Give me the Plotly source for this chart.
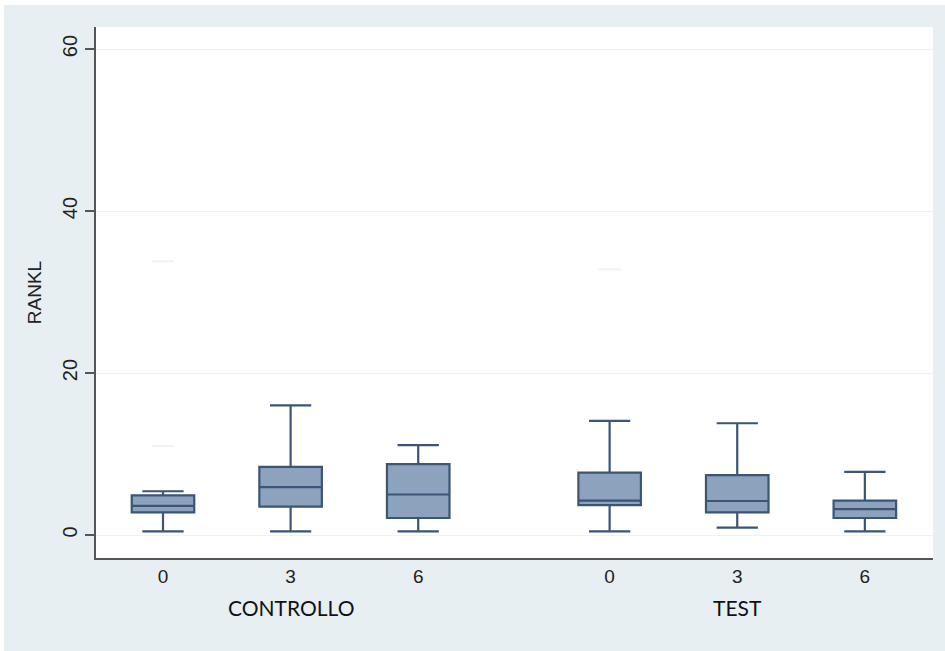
import plotly.graph_objects as go

# ---- data ----
groups = ["CONTROLLO", "CONTROLLO", "CONTROLLO", "TEST", "TEST", "TEST"]
times = ["0", "3", "6", "0", "3", "6"]
positions = [0, 1, 2, 3.5, 4.5, 5.5]
lower_whisker = [0.45, 0.45, 0.45, 0.45, 0.9, 0.45]
q1 = [2.8, 3.5, 2.1, 3.7, 2.8, 2.1]
median = [3.6, 5.9, 5.0, 4.25, 4.2, 3.2]
q3 = [4.9, 8.4, 8.75, 7.7, 7.4, 4.25]
upper_whisker = [5.4, 16.0, 11.1, 14.1, 13.8, 7.8]
outlier_pos = [0, 0, 3.5]
outlier_val = [33.8, 11.0, 32.8]
yticks = [0, 20, 40, 60]

FILL = "#8da3bd"
LINE = "#3a5575"
BG = "#e7eff2"

fig = go.Figure()
for i in range(len(positions)):
    fig.add_trace(go.Box(
        x=[positions[i]], q1=[q1[i]], median=[median[i]], q3=[q3[i]],
        lowerfence=[lower_whisker[i]], upperfence=[upper_whisker[i]],
        width=0.49, whiskerwidth=0.66,
        fillcolor=FILL, line=dict(color=LINE, width=2.2),
        boxpoints=False, showlegend=False, hoverinfo="skip",
    ))

fig.add_trace(go.Scatter(
    x=outlier_pos, y=outlier_val, mode="markers",
    marker=dict(symbol="line-ew", size=16, line=dict(color="#f2f2f2", width=2)),
    showlegend=False, hoverinfo="skip",
))

# group labels
label_font = dict(family="Lato, Carlito, sans-serif", size=21, color="#111111")
fig.add_annotation(x=positions[1], y=-0.0923, xref="x", yref="paper", yanchor="middle",
                   text="CONTROLLO", showarrow=False, font=label_font)
fig.add_annotation(x=positions[4], y=-0.0923, xref="x", yref="paper", yanchor="middle",
                   text="TEST", showarrow=False, font=label_font)

# white outer strips (top and left)
fig.add_shape(type="rect", xref="paper", yref="paper", x0=-0.12, x1=1.02, y0=1.0414, y1=1.06,
              fillcolor="white", line=dict(width=0), layer="below")
fig.add_shape(type="rect", xref="paper", yref="paper", x0=-0.12, x1=-0.1099, y0=-0.2, y1=1.06,
              fillcolor="white", line=dict(width=0), layer="below")

fig.update_layout(
    width=945, height=651,
    margin=dict(l=96, r=12, t=27, b=93),
    paper_bgcolor=BG, plot_bgcolor="white",
    font=dict(family="Liberation Sans, Arial, sans-serif", color="#222222"),
    xaxis=dict(
        range=[-0.525, 6.034], tickmode="array", tickvals=positions, ticktext=times,
        showgrid=False, zeroline=False, showline=True, linecolor="#555555", linewidth=2,
        ticks="", tickfont=dict(size=19, color="#222222"),
    ),
    yaxis=dict(
        range=[-2.84, 62.72], tickmode="array", tickvals=yticks, ticktext=[str(v) for v in yticks],
        showgrid=True, gridcolor="#eef2f4", gridwidth=1, zeroline=False,
        showline=True, linecolor="#555555", linewidth=2,
        ticks="outside", ticklen=9, tickcolor="#555555", tickwidth=1.5,
        tickangle=-90, tickfont=dict(size=20, color="#222222"),
        title=dict(text="RANKL", font=dict(size=19, color="#222222"), standoff=12),
    ),
)

fig.write_html("out.html", config={"displayModeBar": False},
               post_script="document.body.style.margin='0px';")
